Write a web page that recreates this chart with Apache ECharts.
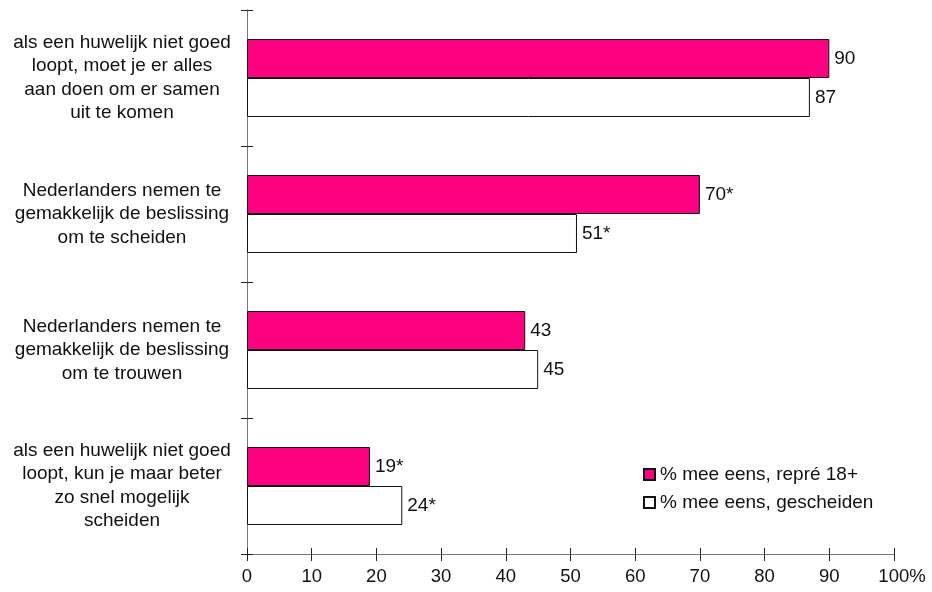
<!DOCTYPE html>
<html><head><meta charset="utf-8">
<script src="https://cdn.jsdelivr.net/npm/echarts@6/dist/echarts.min.js"></script>
<style>html,body{margin:0;padding:0;background:#fff}#c{width:932px;height:592px}</style>
</head><body><div id="c"></div>
<script>
const categories = [
  'als een huwelijk niet goed\nloopt, moet je er alles\naan doen om er samen\nuit te komen',
  'Nederlanders nemen te\ngemakkelijk de beslissing\nom te scheiden',
  'Nederlanders nemen te\ngemakkelijk de beslissing\nom te trouwen',
  'als een huwelijk niet goed\nloopt, kun je maar beter\nzo snel mogelijk\nscheiden'
];
const seriesNames = ['% mee eens, repré 18+', '% mee eens, gescheiden'];
const reprValues = [90, 70, 43, 19];
const reprLabels = ['90', '70*', '43', '19*'];
const gescValues = [87, 51, 45, 24];
const gescLabels = ['87', '51*', '45', '24*'];
const xTickLabels = ['0','10','20','30','40','50','60','70','80','90','100%'];

const font = 'Liberation Sans, Arial, sans-serif';
const chart = echarts.init(document.getElementById('c'), null, {renderer:'canvas'});
const xBase = {type:'value', min:0, max:100, interval:10, splitLine:{show:false}};
const yBase = {type:'category', data:categories, inverse:true};
chart.setOption({
  animation:false,
  grid:{left:247, right:38, top:10, bottom:38, containLabel:false},
  legend:{
    orient:'vertical', left:638, top:460, itemWidth:11, itemHeight:11, itemGap:9,
    icon:'rect',
    textStyle:{fontFamily:font, fontSize:19, color:'#111'},
    data:seriesNames
  },
  xAxis:[
    Object.assign({}, xBase, {
      axisLine:{show:true, lineStyle:{color:'#777', width:1}},
      axisTick:{show:true, length:7, lineStyle:{color:'#222'}},
      axisLabel:{margin:13, fontFamily:font, fontSize:18.5, color:'#111',
        formatter:(v)=>{
          const t = xTickLabels[Math.round(v/10)];
          return t.endsWith('%') ? '{pct|' + t + '}' : t;
        },
        rich:{pct:{fontFamily:font, fontSize:18.5, color:'#111', padding:[0,0,0,16]}}
      }
    }),
    Object.assign({}, xBase, {
      position:'bottom',
      axisLine:{show:false},
      axisTick:{show:true, inside:true, length:6, lineStyle:{color:'#222'}},
      axisLabel:{show:false}
    })
  ],
  yAxis:[
    Object.assign({}, yBase, {
      axisLine:{show:true, lineStyle:{color:'#777', width:1}},
      axisTick:{show:true, length:6, lineStyle:{color:'#222'}},
      axisLabel:{margin:125, align:'center', fontFamily:font, fontSize:19, color:'#111', lineHeight:23.5}
    }),
    Object.assign({}, yBase, {
      position:'left',
      axisLine:{show:false},
      axisTick:{show:true, inside:true, length:6, lineStyle:{color:'#222'}},
      axisLabel:{show:false}
    })
  ],
  series:[
    {
      name:seriesNames[0], type:'bar', xAxisIndex:0, yAxisIndex:0,
      data:reprValues, barWidth:39, barGap:'0%',
      itemStyle:{color:'#FF0080', borderColor:'#111', borderWidth:1},
      label:{show:true, position:'right', distance:5, fontFamily:font, fontSize:19, color:'#111',
        formatter:(p)=>reprLabels[p.dataIndex]}
    },
    {
      name:seriesNames[1], type:'bar', xAxisIndex:0, yAxisIndex:0,
      data:gescValues, barWidth:39, barGap:'0%',
      itemStyle:{color:'#FFFFFF', borderColor:'#111', borderWidth:1},
      label:{show:true, position:'right', distance:5, fontFamily:font, fontSize:19, color:'#111',
        formatter:(p)=>gescLabels[p.dataIndex]}
    }
  ]
});
</script></body></html>
